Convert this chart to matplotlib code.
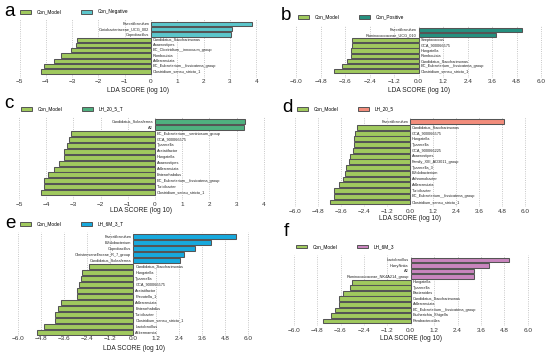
import matplotlib
matplotlib.use("Agg")
import matplotlib.pyplot as plt
from matplotlib.patches import Patch

plt.rcParams['font.family'] = ['Liberation Sans', 'DejaVu Sans']
plt.rcParams['axes.unicode_minus'] = True

W, H = 550, 360

# data, top bar first
a_taxa = ['Faecalibaculum', 'Coriobacteriaceae_UCG_002', 'Coprobacillus', 'Candidatus_Saccharimonas',
          'Anaerostipes', 'EC_Clostridium__innocuum_group', 'Romboutsia', 'Adlercreutzia',
          'EC_Eubacterium__fissicatena_group', 'Clostridium_sensu_stricto_1']
a_lda = [3.83, 3.09, 3.03, -2.82, -2.85, -3.04, -3.41, -3.68, -4.06, -4.17]

b_taxa = ['Faecalibaculum', 'Ruminococcaceae_UCG_010', 'Streptococcus', 'GCA_900066575', 'Hungatella',
          'Romboutsia', 'Candidatus_Saccharimonas', 'EC_Eubacterium__fissicatena_group',
          'Clostridium_sensu_stricto_1']
b_lda = [5.05, 3.79, -3.25, -3.27, -3.3, -3.33, -3.49, -3.75, -4.14]

c_taxa = ['Candidatus_Soleaferrea', 'A2', 'EC_Eubacterium__ventriosum_group', 'GCA_900066575', 'Tyzzerella',
          'Acetatifactor', 'Hungatella', 'Anaerostipes', 'Adlercreutzia', 'Enterorhabdus',
          'EC_Eubacterium__fissicatena_group', 'Turicibacter', 'Clostridium_sensu_stricto_1']
c_lda = [3.31, 3.28, -3.09, -3.17, -3.25, -3.33, -3.33, -3.52, -3.71, -3.92, -4.07, -4.07, -4.2]

d_taxa = ['Faecalibaculum', 'Candidatus_Saccharimonas', 'GCA_900066575', 'Hungatella', 'Tyzzerella',
          'GCA_900066225', 'Anaerostipes', 'Family_XIII_AD3011_group', 'Tyzzerella_3', 'Bifidobacterium',
          'Achromobacter', 'Adlercreutzia', 'Turicibacter', 'EC_Eubacterium__fissicatena_group',
          'Clostridium_sensu_stricto_1']
d_lda = [4.92, -2.75, -2.85, -2.9, -2.94, -2.97, -3.13, -3.18, -3.32, -3.39, -3.51, -3.69, -3.95, -3.98, -4.16]

e_taxa = ['Faecalibaculum', 'Bifidobacterium', 'Coprobacillus', 'Christensenellaceae_R_7_group',
          'Candidatus_Soleaferrea', 'Candidatus_Saccharimonas', 'Hungatella', 'Tyzzerella', 'GCA_900066575',
          'Acetatifactor', 'Prevotella_1', 'Adlercreutzia', 'Enterorhabdus', 'Turicibacter',
          'Clostridium_sensu_stricto_1', 'Lactobacillus', 'Akkermansia']
e_lda = [5.34, 4.05, 3.22, 2.66, 2.45, -2.33, -2.69, -2.75, -2.82, -2.92, -2.96, -3.75, -3.93, -4.07,
         -4.1, -4.68, -5.04]

f_taxa = ['Lactobacillus', 'Harryflintia', 'A2', 'Ruminococcaceae_NK4A214_group', 'Hungatella', 'Tyzzerella',
          'Bacteroides', 'Candidatus_Saccharimonas', 'Adlercreutzia', 'EC_Eubacterium__fissicatena_group',
          'Escherichia_Shigella', 'Parabacteroides']
f_lda = [5.05, 3.99, 3.23, 3.23, -3.02, -3.09, -3.48, -3.69, -3.69, -3.89, -4.1, -4.5]

int_ticks = [-5, -4, -3, -2, -1, 0, 1, 2, 3, 4]
dec_ticks = [-6.0, -4.8, -3.6, -2.4, -1.2, 0.0, 1.2, 2.4, 3.6, 4.8, 6.0]

model_color = '#A0C95E'
edge = '#555555'

fig = plt.figure(figsize=(W / 100, H / 100), dpi=100)


def panel(letter, letter_xy, taxa, lda, group, color, zero_px, scale, left, right, top, bottom,
          y_first, y_last, ticks, fmt, leg_xy, tick_y, label_y):
    ax = fig.add_axes([left / W, 1 - bottom / H, (right - left) / W, (bottom - top) / H])
    n = len(taxa)
    s = (y_last - y_first) / (n - 1)
    ax.set_ylim((n - 1) + (bottom - y_last) / s, -(y_first - top) / s)
    ax.set_xlim((left - zero_px) / scale, (right - zero_px) / scale)
    cols = [color if v > 0 else model_color for v in lda]
    ax.barh(range(n), lda, height=0.84, color=cols, edgecolor=edge, linewidth=0.75, zorder=3)
    for i, (t, v) in enumerate(zip(taxa, lda)):
        if v > 0:
            ax.annotate(t, (0, i), xytext=(-1.5, 0), textcoords='offset points', ha='right', va='center',
                        fontsize=2.8, color='#222222')
        else:
            ax.annotate(t, (0, i), xytext=(1.5, 0), textcoords='offset points', ha='left', va='center',
                        fontsize=2.8, color='#222222')
    ax.set_xticks(ticks)
    ax.set_xticklabels([fmt.format(t).replace('-', '\u2212') for t in ticks])
    ax.set_yticks([])
    ax.grid(axis='x', linestyle=':', linewidth=0.6, color='#B5B5B5', zorder=0)
    for sp in ax.spines.values():
        sp.set_visible(False)
    pad = (tick_y - bottom - 3.0) * 0.72
    ax.tick_params(axis='x', length=0, pad=pad, labelsize=4.6, labelcolor='#333333')
    fig.text((left + right) / 2 / W, 1 - label_y / H, 'LDA SCORE (log 10)', ha='center', va='center',
             fontsize=4.8, color='#222222')
    fig.text(letter_xy[0] / W, 1 - letter_xy[1] / H, letter, ha='left', va='center', fontsize=13.5)
    handles = [Patch(facecolor=model_color, edgecolor=edge, linewidth=0.7, label='Con_Model'),
               Patch(facecolor=color, edgecolor=edge, linewidth=0.7, label=group)]
    ax.legend(handles=handles, loc='center left', bbox_to_anchor=(leg_xy[0] / W, 1 - leg_xy[1] / H),
              bbox_transform=fig.transFigure, ncol=2, frameon=False, fontsize=3.4, handlelength=2.4,
              handleheight=0.8, handletextpad=1.2, columnspacing=4.0, borderpad=0, borderaxespad=0)
    return ax


panel('a', (4, 12), a_taxa, a_lda, 'Con_Negative', '#5CC6CB', 151, 26.3, 14, 262, 19, 78,
      24, 71.3, int_ticks, '{:d}', (20, 12), 82, 90)
panel('b', (281, 15), b_taxa, b_lda, 'Con_Positive', '#26907F', 418.7, 20.42, 290, 548, 25, 78,
      30, 71.3, dec_ticks, '{:.1f}', (298, 17), 82, 90.7)
panel('c', (4, 104), c_taxa, c_lda, 'LH_20_5_T', '#4FB07F', 155, 27.2, 14, 268, 117, 200,
      121.7, 192.7, int_ticks, '{:d}', (21, 109), 205, 211)
panel('d', (282, 107), d_taxa, d_lda, 'LH_20_5', '#F28D7C', 410, 19.17, 290, 530, 117, 207,
      121.7, 202, dec_ticks, '{:.1f}', (297, 109.3), 212, 219)
panel('e', (5, 223), e_taxa, e_lda, 'LH_6M_3_T', '#17A9DD', 133.3, 19.17, 14, 254, 232, 336,
      236.7, 332.7, dec_ticks, '{:.1f}', (20, 224.3), 339, 349)
panel('f', (284, 232), f_taxa, f_lda, 'LH_6M_3', '#C985BE', 410.7, 19.5, 290, 533, 255, 326,
      260, 321, dec_ticks, '{:.1f}', (296, 246.7), 331, 339)

fig.savefig('out.png', dpi=100, facecolor='white')
